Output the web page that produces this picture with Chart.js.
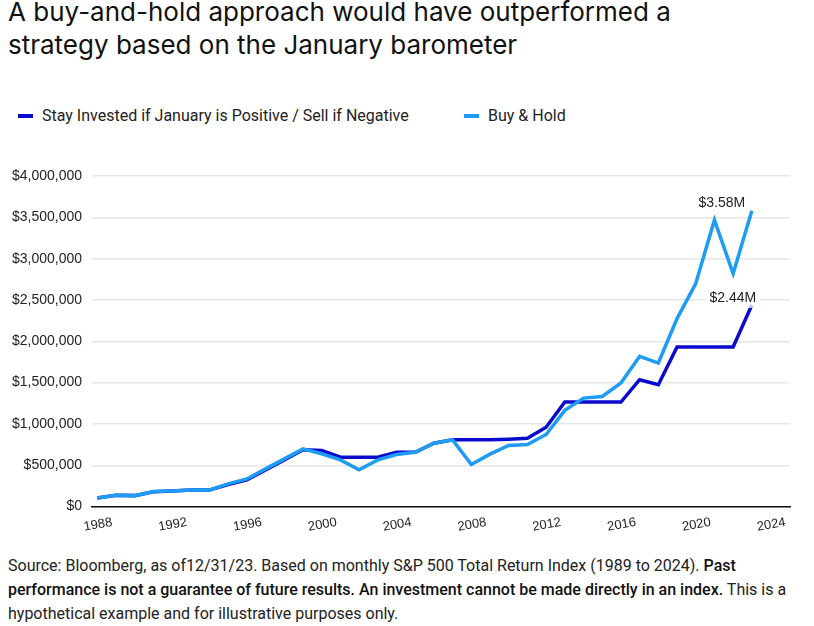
<!DOCTYPE html>
<html>
<head>
<meta charset="utf-8">
<script src="https://cdn.jsdelivr.net/npm/chart.js@4.4.1/dist/chart.umd.min.js"></script>
<style>
  body { margin: 0; background: #fff; font-family: Roboto, "Open Sans", sans-serif; color: #111; }
  #wrap { position: relative; width: 814px; height: 626px; overflow: hidden; }
  h1 { position: absolute; left: 8px; top: -5px; margin: 0; font-family: Inter, Roboto, sans-serif; font-size: 26px; font-weight: 400; line-height: 33px; color: #111; white-space: nowrap; }
  .legend { position: absolute; top: 106px; left: 18px; font-size: 16px; color: #222; }
  .legend span { position: absolute; white-space: nowrap; }
  .legend i { display: inline-block; width: 15px; height: 4px; vertical-align: middle; margin-right: 9px; position: relative; top: -1px; }
  #box { position: absolute; left: 0; top: 156px; width: 814px; height: 379px; }
  .foot { position: absolute; left: 8px; top: 554px; width: 806px; font-size: 16px; line-height: 24px; color: #222; white-space: nowrap; }
  .foot b { font-weight: 500; color: #111; }
</style>
</head>
<body>
<div id="wrap">
  <h1>A buy-and-hold approach would have outperformed a<br>strategy based on the January barometer</h1>
  <div class="legend">
    <span style="left:0"><i style="background:#0a0acc"></i>Stay Invested if January is Positive / Sell if Negative</span>
    <span style="left:446px"><i style="background:#1e9bf2"></i>Buy &amp; Hold</span>
  </div>
  <div id="box"><canvas id="c"></canvas></div>
  <div class="foot">Source: Bloomberg, as of12/31/23. Based on monthly S&amp;P 500 Total Return Index (1989 to 2024). <b>Past</b><br><b>performance is not a guarantee of future results. An investment cannot be made directly in an index.</b> This is a<br>hypothetical example and for illustrative purposes only.</div>
</div>
<script>
const years = [1988, 1989, 1990, 1991, 1992, 1993, 1994, 1995, 1996, 1997, 1998, 1999,
  2000, 2001, 2002, 2003, 2004, 2005, 2006, 2007, 2008, 2009, 2010, 2011,
  2012, 2013, 2014, 2015, 2016, 2017, 2018, 2019, 2020, 2021, 2022, 2023];

// Stay invested if January positive / sell if negative
const januaryRule = [105000, 137000, 133000, 180000, 188000, 200000, 200000, 268000, 325000, 445000, 565000, 687000,
  679000, 598000, 598000, 598000, 658000, 658000, 767000, 808000, 808000, 808000, 816000, 828000,
  961000, 1265000, 1265000, 1265000, 1265000, 1535000, 1475000, 1931000, 1931000, 1931000, 1931000, 2440000];

// Buy & hold
const buyHold = [105000, 137000, 133000, 182000, 190000, 202000, 202000, 275000, 335000, 457000, 578000, 699000,
  640000, 566000, 445000, 566000, 630000, 658000, 767000, 808000, 509000, 635000, 739000, 752000,
  873000, 1164000, 1313000, 1333000, 1495000, 1818000, 1737000, 2275000, 2699000, 3467000, 2820000, 3580000];

const endLabels = ['$2.44M', '$3.58M'];
const yTicks = [0, 500000, 1000000, 1500000, 2000000, 2500000, 3000000, 3500000, 4000000];
const xTicks = [1988, 1992, 1996, 2000, 2004, 2008, 2012, 2016, 2020, 2024];

const endLabelPlugin = {
  id: 'endLabels',
  afterDatasetsDraw(chart) {
    const c = chart.ctx;
    const offs = [{ dx: -19, dy: -7 }, { dx: -30, dy: -8 }];
    c.save();
    c.font = '14px "Liberation Sans", Arial, sans-serif';
    c.textAlign = 'center';
    c.textBaseline = 'middle';
    chart.data.datasets.forEach((ds, i) => {
      const meta = chart.getDatasetMeta(i);
      const pt = meta.data[meta.data.length - 1];
      const x = pt.x + offs[i].dx, y = pt.y + offs[i].dy;
      const w = c.measureText(endLabels[i]).width + 8;
      c.fillStyle = 'rgba(255,255,255,0.75)';
      c.fillRect(x - w / 2, y - 10, w, 20);
      c.fillStyle = '#222';
      c.fillText(endLabels[i], x, y);
    });
    c.restore();
  }
};

new Chart(document.getElementById('c'), {
  type: 'line',
  data: {
    datasets: [
      {
        label: 'Stay Invested if January is Positive / Sell if Negative',
        data: years.map((y, i) => ({ x: y, y: januaryRule[i] })),
        borderColor: '#0a0acc',
        borderWidth: 3.5,
        pointRadius: 0,
        tension: 0,
        order: 1
      },
      {
        label: 'Buy & Hold',
        data: years.map((y, i) => ({ x: y, y: buyHold[i] })),
        borderColor: '#1e9bf2',
        borderWidth: 3.5,
        pointRadius: 0,
        tension: 0,
        order: 0
      }
    ]
  },
  options: {
    responsive: true,
    maintainAspectRatio: false,
    animation: false,
    layout: { padding: { top: 20, right: 24, left: 0, bottom: 0 } },
    plugins: { legend: { display: false }, tooltip: { enabled: false } },
    scales: {
      x: {
        type: 'linear',
        min: 1987.72,
        max: 2025.04,
        afterBuildTicks: axis => { axis.ticks = xTicks.map(v => ({ value: v })); },
        ticks: {
          minRotation: 10,
          maxRotation: 10,
          labelOffset: 15,
          padding: 0,
          color: '#222',
          font: { size: 13, family: '"Liberation Sans", Arial' },
          callback: v => String(v)
        },
        grid: { display: false },
        border: { color: '#111', width: 1.5 }
      },
      y: {
        min: 0,
        max: 4000000,
        afterBuildTicks: axis => { axis.ticks = yTicks.map(v => ({ value: v })); },
        afterFit: axis => { axis.width = 92; },
        ticks: {
          color: '#222',
          font: { size: 14, family: '"Liberation Sans", Arial' },
          padding: 10,
          callback: v => '$' + v.toLocaleString('en-US')
        },
        grid: { color: '#e6e6e6', lineWidth: 1.5, drawTicks: false },
        border: { display: false }
      }
    }
  },
  plugins: [endLabelPlugin]
});
</script>
</body>
</html>
